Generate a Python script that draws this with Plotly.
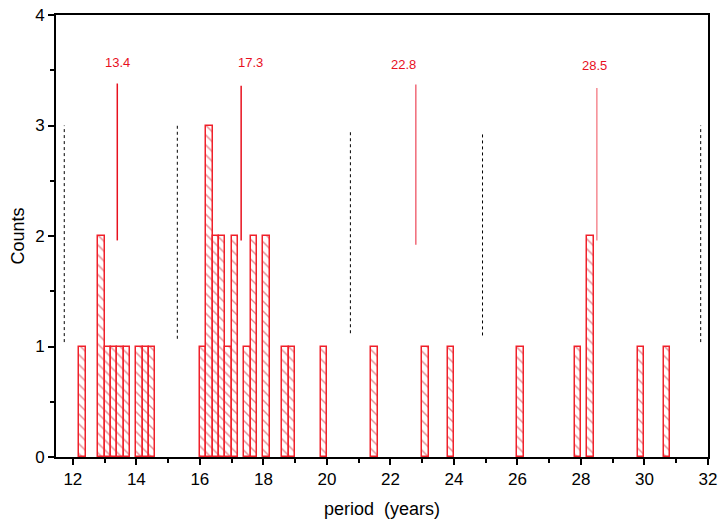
import plotly.graph_objects as go

# Histogram bins (centre of 0.2-year bins) and counts
bin_centers = [12.3, 12.9, 13.1, 13.3, 13.5, 13.7, 14.1, 14.3, 14.5,
               16.1, 16.3, 16.5, 16.7, 16.9, 17.1, 17.5, 17.7, 18.1, 18.7, 18.9,
               19.9, 21.5, 23.1, 23.9, 26.1, 27.9, 28.3, 29.9, 30.7]
counts = [1, 2, 1, 1, 1, 1, 1, 1, 1,
          1, 3, 2, 2, 1, 2, 1, 2, 2, 1, 1,
          1, 1, 1, 1, 1, 1, 2, 1, 1]
bin_width = 0.2

# Marked periods (red lines with labels)
peak_periods = [13.4, 17.3, 22.8, 28.5]
peak_labels = ["13.4", "17.3", "22.8", "28.5"]
peak_line_bottom = [1.96, 1.96, 1.92, 1.96]
peak_line_top = [3.38, 3.36, 3.37, 3.34]
peak_label_x = [13.4, 17.6, 22.4, 28.42]
peak_label_y = [3.57, 3.57, 3.55, 3.54]
peak_colors = ["#e8101e", "#e8101e", "#f06a78", "#f58a92"]

# Dashed group separators
sep_x = [11.73, 15.29, 20.74, 24.90, 31.77]
sep_bottom = [1.04, 1.07, 1.12, 1.10, 1.04]
sep_top = [3.00, 3.01, 2.95, 2.93, 3.00]

x_ticks = [12, 14, 16, 18, 20, 22, 24, 26, 28, 30, 32]
y_ticks = [0, 1, 2, 3, 4]

fig = go.Figure()
fig.add_trace(go.Bar(
    x=bin_centers, y=counts, width=bin_width,
    marker=dict(color="white",
                line=dict(color="#f0202a", width=1.5),
                pattern=dict(shape="\\", fgcolor="#d01020", bgcolor="white",
                             size=7, solidity=0.2)),
    showlegend=False, hoverinfo="x+y",
))

for x, b, t, c in zip(peak_periods, peak_line_bottom, peak_line_top, peak_colors):
    fig.add_shape(type="line", xref="x", yref="y", x0=x, x1=x, y0=b, y1=t,
                  line=dict(color=c, width=1.5))
for lx, ly, txt, c in zip(peak_label_x, peak_label_y, peak_labels, peak_colors):
    fig.add_annotation(x=lx, y=ly, xref="x", yref="y", text=txt, showarrow=False,
                       font=dict(family="Liberation Sans, Arial", size=13, color="#e8101e"))
for x, b, t in zip(sep_x, sep_bottom, sep_top):
    fig.add_shape(type="line", xref="x", yref="y", x0=x, x1=x, y0=b, y1=t,
                  line=dict(color="black", width=1, dash="dot"))

axis_font = dict(family="Liberation Sans, Arial", size=17, color="black")
title_font = dict(family="Liberation Sans, Arial", size=18, color="black")
fig.update_layout(
    width=724, height=525,
    margin=dict(l=56, r=16, t=15, b=68),
    paper_bgcolor="white", plot_bgcolor="white",
    bargap=0,
    font=axis_font,
    xaxis=dict(range=[11.47, 32], tickvals=x_ticks, ticktext=[str(v) for v in x_ticks],
               automargin=False, ticklabeloverflow="allow",
               showline=True, linecolor="black", linewidth=2, mirror=True,
               ticks="outside", ticklen=6, tickwidth=1.5, tickcolor="black",
               minor=dict(dtick=1, tick0=0, ticks="outside", ticklen=4, tickcolor="black"),
               showgrid=False, zeroline=False,
               title=dict(text="period  (years)", font=title_font, standoff=14),
               tickfont=axis_font),
    yaxis=dict(range=[0, 4], tickvals=y_ticks,
               automargin=False, ticklabeloverflow="allow",
               showline=True, linecolor="black", linewidth=2, mirror=True,
               ticks="outside", ticklen=6, tickwidth=1.5, tickcolor="black",
               minor=dict(dtick=0.5, tick0=0, ticks="outside", ticklen=4, tickcolor="black"),
               showgrid=False, zeroline=False,
               title=dict(text="Counts", font=title_font, standoff=6),
               tickfont=axis_font),
)

# Remove the default page margin so the 724x525 figure fills the window exactly
fig.write_html("out.html",
               config={"displayModeBar": False},
               post_script="document.body.style.margin='0';document.body.style.overflow='hidden';")
